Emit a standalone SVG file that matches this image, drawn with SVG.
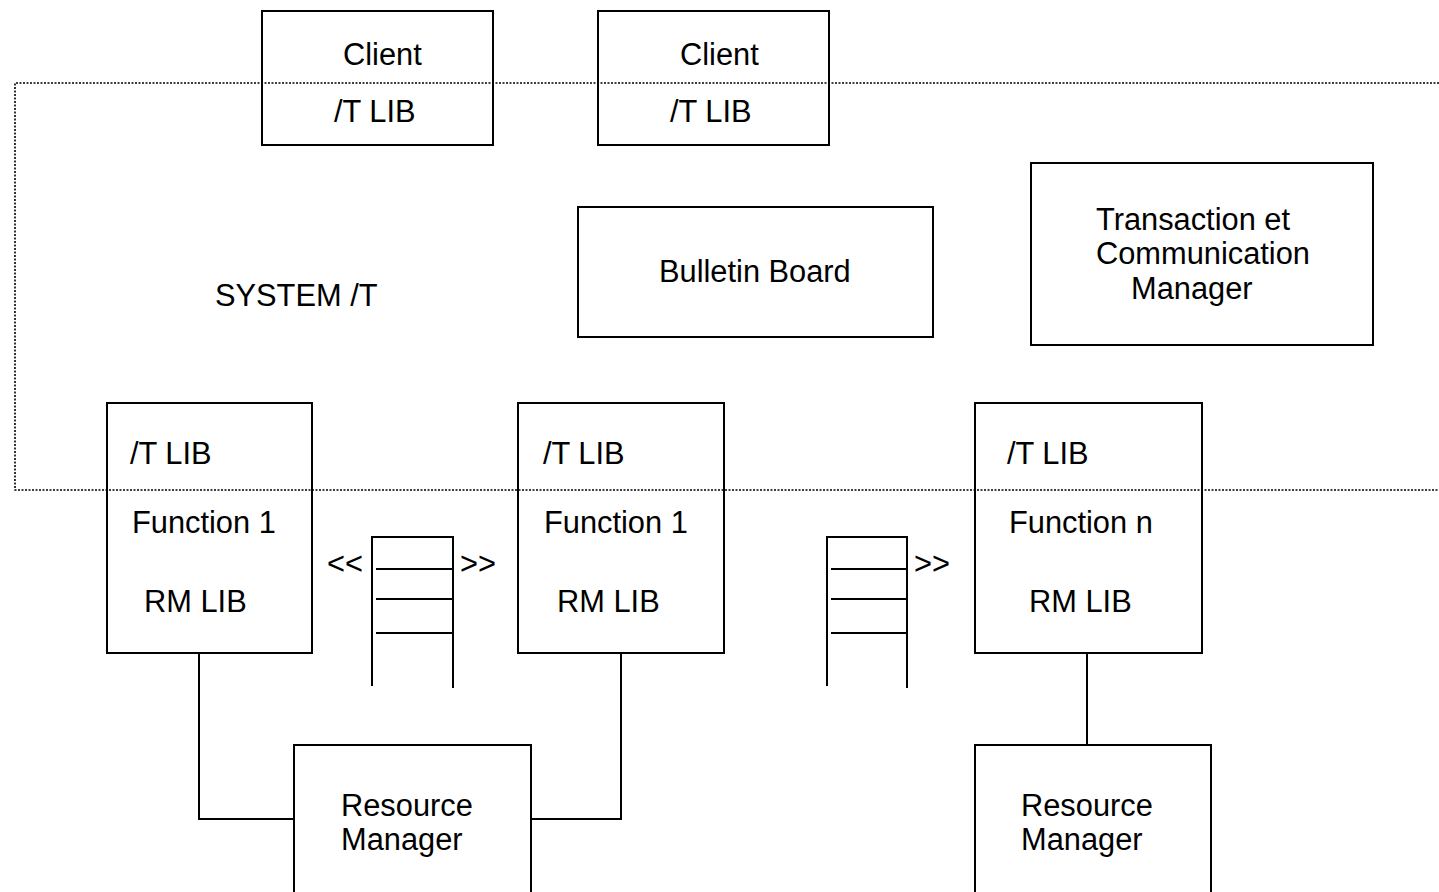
<svg xmlns="http://www.w3.org/2000/svg" width="1439" height="892" viewBox="0 0 1439 892">
<style>
.box{fill:#fff;stroke:#000;stroke-width:2}
.ln{fill:none;stroke:#000;stroke-width:2}
.dot{fill:none;stroke:#000;stroke-width:1.6;stroke-dasharray:2 1.5}
text{font-family:"Liberation Sans",Arial,sans-serif;font-size:30.8px;fill:#000}
</style>
<rect width="1439" height="892" fill="#fff"/>
<g id="client1">
<rect class="box" x="262" y="11" width="231" height="134"/>
<text x="343" y="65">Client</text>
<text x="334" y="122">/T LIB</text>
</g>
<g id="client2">
<rect class="box" x="598" y="11" width="231" height="134"/>
<text x="680" y="65">Client</text>
<text x="670" y="122">/T LIB</text>
</g>
<g id="bulletin-board">
<rect class="box" x="578" y="207" width="355" height="130"/>
<text x="659" y="282">Bulletin Board</text>
</g>
<g id="tcm">
<rect class="box" x="1031" y="163" width="342" height="182"/>
<text x="1096" y="230">Transaction et</text>
<text x="1096" y="264">Communication</text>
<text x="1131" y="299">Manager</text>
</g>
<g id="system-label">
<text x="215" y="306">SYSTEM /T</text>
</g>
<g id="server1">
<rect class="box" x="107" y="403" width="205" height="250"/>
<text x="130" y="464">/T LIB</text>
<text x="132" y="533">Function 1</text>
<text x="144" y="612">RM LIB</text>
</g>
<g id="server2">
<rect class="box" x="518" y="403" width="206" height="250"/>
<text x="543" y="464">/T LIB</text>
<text x="544" y="533">Function 1</text>
<text x="557" y="612">RM LIB</text>
</g>
<g id="server3">
<rect class="box" x="975" y="403" width="227" height="250"/>
<text x="1007" y="464">/T LIB</text>
<text x="1009" y="533">Function n</text>
<text x="1029" y="612">RM LIB</text>
</g>
<g id="system-boundary">
<path class="dot" d="M1439,83 H15 V490 H1439"/>
</g>
<g id="queue1">
<path class="ln" d="M372,686 V537 H453 V688 M376,569 H453 M376,599 H453 M376,633 H453"/>
<text x="327" y="574">&lt;&lt;</text>
<text x="460" y="574">&gt;&gt;</text>
</g>
<g id="queue2">
<path class="ln" d="M827,686 V537 H907 V688 M831,569 H907 M831,599 H907 M831,633 H907"/>
<text x="914" y="574">&gt;&gt;</text>
</g>
<g id="rm1">
<path class="box" d="M294,900 V745 H531 V900"/>
<text x="341" y="816">Resource</text>
<text x="341" y="850">Manager</text>
</g>
<g id="rm2">
<path class="box" d="M975,900 V745 H1211 V900"/>
<text x="1021" y="816">Resource</text>
<text x="1021" y="850">Manager</text>
</g>
<g id="connectors">
<path class="ln" d="M199,653 V819 H294"/>
<path class="ln" d="M621,653 V819 H531"/>
<path class="ln" d="M1087,653 V745"/>
</g>
</svg>
